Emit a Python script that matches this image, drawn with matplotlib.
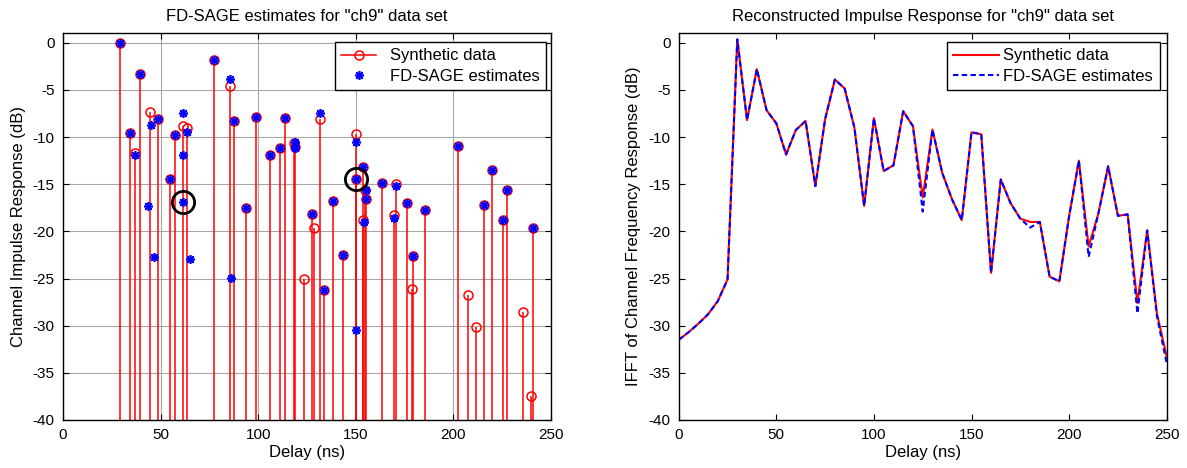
import matplotlib.pyplot as plt
from matplotlib.lines import Line2D
from matplotlib.legend_handler import HandlerLine2D

plt.rcParams['font.family'] = ['Liberation Sans', 'DejaVu Sans']
plt.rcParams['font.size'] = 10.5
plt.rcParams['axes.unicode_minus'] = False

# Synthetic multipath components (delay ns, level dB)
syn_delay = [29.3, 34.3, 36.8, 39.4, 44.5, 48.4, 54.7, 57.6, 61.5, 63.6,
             77.4, 85.4, 87.6, 93.6, 98.7, 106.2, 111.0, 113.6, 118.5, 119.0,
             123.6, 127.7, 128.5, 131.5, 133.5, 138.3, 143.4, 150.0, 150.3, 153.6,
             154.8, 155.1, 153.9, 163.5, 169.5, 170.5, 176.1, 178.9, 179.3, 185.3,
             202.6, 207.3, 211.6, 215.5, 219.6, 225.6, 227.3, 235.5, 239.7, 240.6]
syn_db = [0.0, -9.55, -11.7, -3.3, -7.3, -8.1, -14.5, -9.8, -8.8, -9.0,
          -1.8, -4.6, -8.3, -17.5, -7.9, -11.9, -11.2, -8.0, -10.6, -11.1,
          -25.1, -18.2, -19.6, -8.1, -26.2, -16.8, -22.5, -9.7, -14.5, -13.2,
          -15.6, -16.6, -18.8, -14.9, -18.3, -15.0, -17.0, -26.1, -22.6, -17.7,
          -10.9, -26.8, -30.1, -17.2, -13.45, -18.75, -15.6, -28.6, -37.5, -19.6]

# FD-SAGE estimates
est_delay = [29.3, 34.3, 36.8, 39.4, 43.6, 45.2, 46.5, 48.4, 54.7, 57.6,
             61.5, 61.5, 61.5, 63.6, 65.0, 77.4, 85.4, 86.3, 87.6, 93.6,
             98.7, 106.2, 111.0, 113.6, 118.7, 118.7, 118.7, 127.7, 131.5, 133.5,
             138.3, 143.4, 150.0, 150.2, 150.2, 153.6, 155.0, 155.0, 154.0, 163.5,
             169.6, 170.5, 176.1, 179.3, 185.3, 202.6, 215.5, 219.6, 225.6, 227.3,
             240.6]
est_db = [0.0, -9.55, -11.9, -3.3, -17.3, -8.75, -22.7, -8.1, -14.5, -9.8,
          -7.4, -11.9, -16.9, -9.5, -22.9, -1.8, -3.8, -24.95, -8.3, -17.5,
          -7.9, -11.9, -11.2, -8.0, -10.5, -10.9, -11.2, -18.2, -7.5, -26.2,
          -16.8, -22.5, -10.5, -14.5, -30.5, -13.2, -15.6, -16.6, -19.0, -14.9,
          -18.6, -15.2, -17.0, -22.6, -17.7, -10.9, -17.2, -13.45, -18.8, -15.6,
          -19.6]

# highlighted estimates
mark_delay = [61.5, 150.2]
mark_db = [-16.9, -14.5]

# Reconstructed impulse response
ir_delay = [0, 5, 10, 15, 20, 25, 30, 35, 40, 45, 50, 55, 60, 65, 70, 75, 80,
            85, 90, 95, 100, 105, 110, 115, 120, 125, 130, 135, 140, 145, 150,
            155, 160, 165, 170, 175, 180, 185, 190, 195, 200, 205, 210, 215,
            220, 225, 230, 235, 240, 245, 250]
ir_syn = [-31.5, -30.7, -29.8, -28.8, -27.4, -25.1, 0.35, -8.2, -2.8, -7.15,
          -8.55, -11.85, -9.25, -8.3, -15.2, -8.1, -3.9, -4.85, -9.0, -17.3,
          -8.0, -13.6, -13.0, -7.26, -8.85, -16.4, -9.2, -13.8, -16.6, -18.8,
          -9.5, -9.7, -24.4, -14.5, -17.0, -18.65, -19.0, -19.0, -24.8, -25.3,
          -18.4, -12.5, -21.6, -18.1, -13.1, -18.35, -18.2, -27.6, -19.9, -28.7,
          -33.3]
ir_est = [-31.5, -30.7, -29.8, -28.8, -27.4, -25.1, 0.35, -8.2, -2.8, -7.15,
          -8.55, -11.85, -9.25, -8.3, -15.2, -8.1, -3.9, -4.85, -9.0, -17.3,
          -8.0, -13.6, -13.0, -7.26, -8.85, -17.9, -9.2, -13.8, -16.6, -18.8,
          -9.5, -9.7, -24.4, -14.5, -17.0, -18.65, -19.6, -19.0, -24.8, -25.3,
          -18.4, -12.5, -22.7, -18.1, -13.1, -18.35, -18.2, -28.7, -19.9, -29.0,
          -34.0]

x_ticks = [0, 50, 100, 150, 200, 250]
y_ticks = [-40, -35, -30, -25, -20, -15, -10, -5, 0]

STAR = (8, 2, 0)


class EndMarkerHandler(HandlerLine2D):
    # marker at the right end of the legend line, like MATLAB
    def get_xdata(self, legend, xdescent, ydescent, width, height, fontsize):
        xdata, _ = super().get_xdata(legend, xdescent, ydescent, width, height, fontsize)
        return xdata, [xdata[-1] - 3]


fig = plt.figure(figsize=(11.87, 4.68), dpi=100)
ax1 = fig.add_axes([0.0531, 0.1026, 0.4111, 0.8262])
ax2 = fig.add_axes([0.5718, 0.1026, 0.4111, 0.8262])

# left: stems
ax1.vlines(syn_delay, -40, syn_db, color='red', lw=1.1, zorder=2)
ax1.plot(syn_delay, syn_db, 'o', mfc='none', mec='red', ms=6.5, mew=1.1, zorder=3)
ax1.plot(est_delay, est_db, ls='none', marker=STAR, color='blue', ms=6.5, mew=1.2, zorder=4)
ax1.plot(mark_delay, mark_db, 'o', mfc='none', mec='black', ms=16, mew=2, zorder=5)

h_syn = Line2D([], [], color='red', lw=1.1, marker='o', mfc='none', mec='red', ms=6.5, mew=1.1)
h_est = Line2D([], [], color='blue', ls='none', marker=STAR, ms=6.5, mew=1.2)
leg_kw = dict(loc='upper right', borderaxespad=0, fancybox=False, framealpha=1,
              edgecolor='black', fontsize=12, labelspacing=0.32, borderpad=0.4)
leg1 = ax1.legend([h_syn, h_est], ['Synthetic data', 'FD-SAGE estimates'],
                  bbox_to_anchor=(0.99, 0.978), numpoints=1, handlelength=2.1,
                  handletextpad=0.8, handler_map={h_syn: EndMarkerHandler()}, **leg_kw)
ax1.grid(True, color='#a6a6a6', lw=0.8)
ax1.set_title('FD-SAGE estimates for "ch9" data set', pad=9, fontsize=12)
ax1.set_ylabel('Channel Impulse Response (dB)', fontsize=12, labelpad=5)

# right: reconstructed impulse response
ax2.plot(ir_delay, ir_syn, color='red', lw=1.5, label='Synthetic data')
ax2.plot(ir_delay, ir_est, '--', color='blue', lw=1.5, dashes=(2.6, 1.6),
         label='FD-SAGE estimates')
leg2 = ax2.legend(bbox_to_anchor=(0.986, 0.978), handlelength=2.75,
                  handletextpad=0.25, **leg_kw)
ax2.set_title('Reconstructed Impulse Response for "ch9" data set', pad=9, fontsize=12)
ax2.set_ylabel('IFFT of Channel Frequency Response (dB)', fontsize=12, labelpad=5)

for leg in (leg1, leg2):
    leg.get_frame().set_linewidth(1.0)

for ax in (ax1, ax2):
    ax.set_xlim(0, 250)
    ax.set_ylim(-40, 1)
    ax.set_xticks(x_ticks)
    ax.set_yticks(y_ticks)
    ax.set_xlabel('Delay (ns)', labelpad=2, fontsize=12)
    ax.tick_params(direction='in', top=True, right=True, length=4, pad=6,
                   colors='black', labelsize=11)
    ax.set_axisbelow(True)
    for sp in ax.spines.values():
        sp.set_color('black')
        sp.set_linewidth(1.0)

fig.savefig('out.png', dpi=100)
